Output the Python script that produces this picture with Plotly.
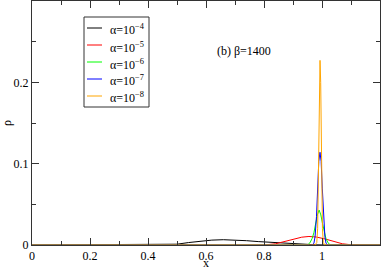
import plotly.graph_objects as go

# alpha = 1e-4 (black)
x_a4 = [0.0, 0.50, 0.54, 0.58, 0.62, 0.66, 0.70, 0.74, 0.78, 0.82, 0.86, 0.90, 0.94, 0.98, 1.02, 1.2]
y_a4 = [0.0, 0.0010, 0.0030, 0.0048, 0.0060, 0.0065, 0.0062, 0.0053, 0.0042, 0.0033, 0.0024, 0.0014, 0.0006, 0.0002, 0.0, 0.0]

# alpha = 1e-5 (red)
x_a5 = [0.0, 0.80, 0.84, 0.87, 0.90, 0.93, 0.955, 0.98, 1.01, 1.04, 1.07, 1.10, 1.2]
y_a5 = [0.0, 0.0, 0.0015, 0.0040, 0.0072, 0.0096, 0.0105, 0.0098, 0.0075, 0.0042, 0.0015, 0.0003, 0.0]

# alpha = 1e-6 (green)
x_a6 = [0.0, 0.950, 0.958, 0.966, 0.972, 0.978, 0.984, 0.990, 0.996, 1.002, 1.008, 1.014, 1.022, 1.030, 1.2]
y_a6 = [0.0, 0.0, 0.0025, 0.0080, 0.0150, 0.0260, 0.0370, 0.0430, 0.0370, 0.0260, 0.0150, 0.0075, 0.0020, 0.0, 0.0]

# alpha = 1e-7 (blue)
x_a7 = [0.0, 0.966, 0.972, 0.976, 0.981, 0.985, 0.989, 0.993, 0.997, 1.001, 1.005, 1.010, 1.014, 1.020, 1.2]
y_a7 = [0.0, 0.0, 0.0020, 0.0100, 0.0350, 0.0700, 0.1030, 0.1140, 0.1030, 0.0700, 0.0350, 0.0100, 0.0020, 0.0, 0.0]

# alpha = 1e-8 (orange)
x_a8 = [0.0, 0.976, 0.982, 0.985, 0.987, 0.989, 0.991, 0.9932, 0.9955, 0.9975, 0.9995, 1.0015, 1.0045, 1.010, 1.2]
y_a8 = [0.0, 0.0, 0.003, 0.020, 0.070, 0.140, 0.200, 0.227, 0.200, 0.140, 0.070, 0.020, 0.003, 0.0, 0.0]

series_names = ["α=10<sup>−4</sup>", "α=10<sup>−5</sup>", "α=10<sup>−6</sup>",
                "α=10<sup>−7</sup>", "α=10<sup>−8</sup>"]
series_x = [x_a4, x_a5, x_a6, x_a7, x_a8]
series_y = [y_a4, y_a5, y_a6, y_a7, y_a8]
series_colors = ["#000000", "#ff0000", "#00ff00", "#0000ff", "#ffa500"]

x_ticks = [0, 0.2, 0.4, 0.6, 0.8, 1.0]
x_ticklabels = ["0", "0.2", "0.4", "0.6", "0.8", "1"]
y_ticks = [0, 0.1, 0.2]
y_ticklabels = ["0", "0.1", "0.2"]

FONT = "Liberation Serif"
W, H = 382, 267
ML, MR, MT, MB = 32, 2, 1, 22
PW, PH = W - ML - MR, H - MT - MB


def px_x(p):
    return (p - ML) / PW


def px_y(p):
    return 1 - (p - MT) / PH


fig = go.Figure()
for name, xs, ys, col in zip(series_names, series_x, series_y, series_colors):
    fig.add_trace(go.Scatter(x=xs, y=ys, mode="lines", name=name,
                             line=dict(color=col, width=1), showlegend=False))

axis_common = dict(showgrid=False, zeroline=False, showline=True, linecolor="#333333",
                   linewidth=1, mirror="ticks", ticks="inside", ticklen=7, tickcolor="#333333",
                   automargin=False,
                   tickfont=dict(family=FONT, size=12, color="black"))

fig.update_xaxes(range=[0, 1.2], tickvals=x_ticks, ticktext=x_ticklabels,
                 minor=dict(dtick=0.1, ticks="inside", ticklen=4, tickcolor="#333333"),
                 ticklabelstandoff=0, **axis_common)
fig.update_yaxes(range=[0, 0.3], tickvals=y_ticks, ticktext=y_ticklabels,
                 minor=dict(dtick=0.05, ticks="inside", ticklen=4, tickcolor="#333333"),
                 **axis_common)

# axis titles
fig.add_annotation(x=px_x(206), y=px_y(263), xref="paper", yref="paper", text="x",
                   xanchor="center", yanchor="middle", borderpad=0,
                   showarrow=False, font=dict(family=FONT, size=12, color="black"))
fig.add_annotation(x=px_x(7), y=px_y(123), xref="paper", yref="paper", text="ρ",
                   xanchor="center", yanchor="middle",
                   showarrow=False, textangle=-90, font=dict(family=FONT, size=12, color="black"))

fig.add_annotation(x=0.632, y=0.239, xref="x", yref="y", text="(b) β=1400", showarrow=False,
                   xanchor="left", yanchor="middle", font=dict(family=FONT, size=12, color="black"))

# legend box drawn to match the reference's compact legend
fig.add_shape(type="rect", xref="paper", yref="paper", x0=px_x(84), x1=px_x(149),
              y0=px_y(107), y1=px_y(17), line=dict(color="#333333", width=1), fillcolor="white")
legend_rows = [28, 45, 62, 79, 96]
for name, col, ry in zip(series_names, series_colors, legend_rows):
    fig.add_shape(type="line", xref="paper", yref="paper", x0=px_x(87), x1=px_x(102),
                  y0=px_y(ry), y1=px_y(ry), line=dict(color=col, width=1))
    fig.add_annotation(x=px_x(108), y=px_y(ry + 2), xref="paper", yref="paper", text=name,
                       showarrow=False, xanchor="left", yanchor="middle",
                       font=dict(family=FONT, size=12, color="black"))

fig.update_layout(
    width=W, height=H,
    margin=dict(l=ML, r=MR, t=MT, b=MB, autoexpand=False),
    paper_bgcolor="white", plot_bgcolor="white",
    font=dict(family=FONT, size=12, color="black"),
    showlegend=False,
)

fig.write_html("out.html", config={"displayModeBar": False},
               post_script="document.body.style.margin='0';document.body.style.overflow='hidden';")
